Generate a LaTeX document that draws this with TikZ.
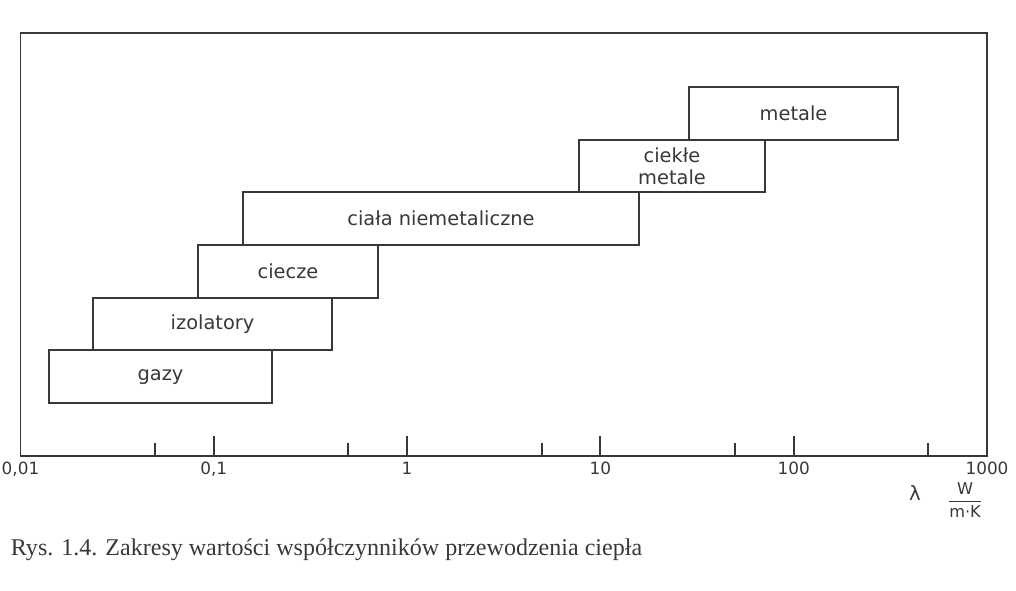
\documentclass[tikz,border=0pt]{standalone}
\usepackage{amsmath}
\usepackage{fontspec}
\setmainfont{Liberation Serif}
\setsansfont{DejaVu Sans}
\newcommand{\px}{0.25mm}
\definecolor{tusz}{HTML}{383838}

\begin{document}
\begin{tikzpicture}[x=\px, y=-\px, line width=1.3pt, color=tusz,
    every node/.style={font=\sffamily},
    zakres/.style={draw, inner sep=0pt, align=center, minimum height=52.7*\px,
      font=\sffamily\fontsize{13.8}{15.5}\selectfont},
    liczba/.style={anchor=base, font=\sffamily\fontsize{12}{14}\selectfont}]
    \useasboundingbox (0,0) rectangle (1016,590);
    % frame, its lower side is the lambda axis
        \draw (20.5,33) rectangle (987,456);
    % log scale: decades and the 5's between them
        \foreach \d in {1,...,4}
            \draw (20.5+193.3*\d,456) -- ++(0,-20);
        \foreach \d in {0,...,4}
            \draw (20.5+193.3*\d+134.5,456) -- ++(0,-13);
        \foreach \d/\lab in {0/{0,01},1/{0,1},2/1,3/10,4/100,5/1000}
            \node[liczba] (l\d) at (20.5+193.3*\d,474) {\lab};
    % ranges of lambda
        \node[zakres, minimum width=223*\px] (gazy)   at (160.5,376.7) {gazy};
        \node[zakres, minimum width=239*\px] (izol)   at (212.5,324)   {izolatory};
        \node[zakres, minimum width=180*\px] (ciecze) at (288,271.3)   {ciecze};
        \node[zakres, minimum width=396*\px] (niemet) at (441,218.7)   {ciała niemetaliczne};
        \node[zakres, minimum width=186*\px] (ciekle) at (672,166)     {ciekłe\\metale};
        \node[zakres, minimum width=209*\px] (metale) at (793.5,113.3) {metale};
    % axis unit
        \node[font=\sffamily\fontsize{14}{16}\selectfont] (lam) at (915,493) {λ};
        \node[font=\sffamily\fontsize{11.5}{13}\selectfont] (jedn) at (965,500) {$\dfrac{\text{W}}{\text{m·K}}$};
    % caption
        \node[anchor=base west, inner sep=0pt, font=\rmfamily\fontsize{17.1}{20}\selectfont] (podpis) at (10,555)
            {Rys. 1.4. Zakresy wartości współczynników przewodzenia ciepła};
\end{tikzpicture}
\end{document}
